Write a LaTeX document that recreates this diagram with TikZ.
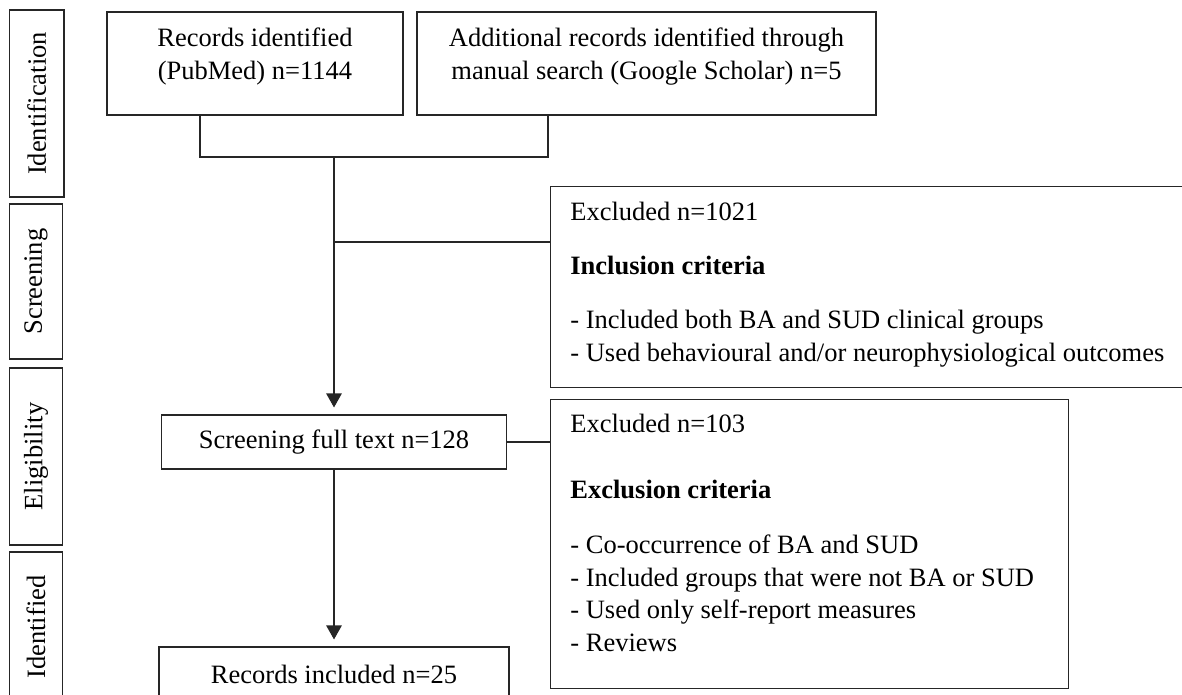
\documentclass[tikz,border=0pt]{standalone}
\usepackage{fontspec}
\setmainfont{Liberation Serif}
\usetikzlibrary{positioning, arrows.meta}
\newcommand{\fs}{\fontsize{13.25pt}{16.25pt}\selectfont}
\newcommand{\lowpad}{\rule[-10pt]{0pt}{10pt}}
\tikzset{
    box/.style={draw=black!85, line width=0.55pt, inner sep=0pt, font=\fs, align=center},
    side/.style={box, rotate=90},
    txt/.style={font=\fs, align=left, anchor=north west, inner sep=0pt},
    link/.style={draw=black!85, line width=0.55pt},
    arr/.style={link, -{Triangle[length=7pt, width=7.75pt]}, shorten >=3.5pt}
}

\begin{document}
\begin{tikzpicture}[x=0.5pt, y=-0.5pt]
    \useasboundingbox (0,0) rectangle (1182,695);
    % Phase labels
    \node [side, minimum width=93.5pt, minimum height=27.25pt] (idn) at (36.75,103.5) {Identification};
    \node [side, minimum width=77.5pt, minimum height=26.5pt] (scr) at (36,281.5) {Screening};
    \node [side, minimum width=88.5pt, minimum height=26.5pt] (elg) at (36,456.5) {Eligibility};
    \node [side, minimum width=75pt, minimum height=26.5pt] (idf) at (36,627) {Identified};
    % Sources
    \node [box, minimum width=148pt, minimum height=51.5pt] (rec) at (255,63.5) {Records identified\\(PubMed) n=1144\lowpad};
    \node [box, minimum width=229.5pt, minimum height=51.5pt] (add) at (646.5,63.5) {Additional records identified through\\manual search (Google Scholar) n=5\lowpad};
    % Full text and included
    \node [box, minimum width=172.5pt, minimum height=27pt] (full) at (334,442) {Screening full text n=128};
    \node [box, minimum width=175pt, minimum height=27pt] (incl) at (334,674) {Records included n=25};
    % Excluded boxes
    \node [box, minimum width=315.75pt, minimum height=100.5pt, anchor=north west] (exa) at (550,186) {};
    \node [txt] (exatxt) at (570,202) {Excluded n=1021\\[10.75pt]\textbf{Inclusion criteria}\\[10.75pt]- Included both BA and SUD clinical groups\\- Used behavioural and/or neurophysiological outcomes};
    \node [box, minimum width=259pt, minimum height=144.5pt, anchor=north west] (exb) at (550,399) {};
    \node [txt] (exbtxt) at (570,414) {Excluded n=103\\[16.75pt]\textbf{Exclusion criteria}\\[11.25pt]- Co-occurrence of BA and SUD\\- Included groups that were not BA or SUD\\- Used only self-report measures\\- Reviews};
    % Connectors
    \coordinate (ja) at (200,157);
    \coordinate (jb) at (548,157);
    \coordinate (jm) at (334,157);
    \coordinate (jx) at (334,242);
    \draw [link] (rec.south -| ja) -- (ja) -- (jb) -- (add.south -| jb);
    \draw [arr] (jm) -- (full.north);
    \draw [link] (jx) -- (jx -| exa.west);
    \draw [link] (full.east) -- (full.east -| exb.west);
    \draw [arr] (full.south) -- (incl.north);
\end{tikzpicture}
\end{document}
